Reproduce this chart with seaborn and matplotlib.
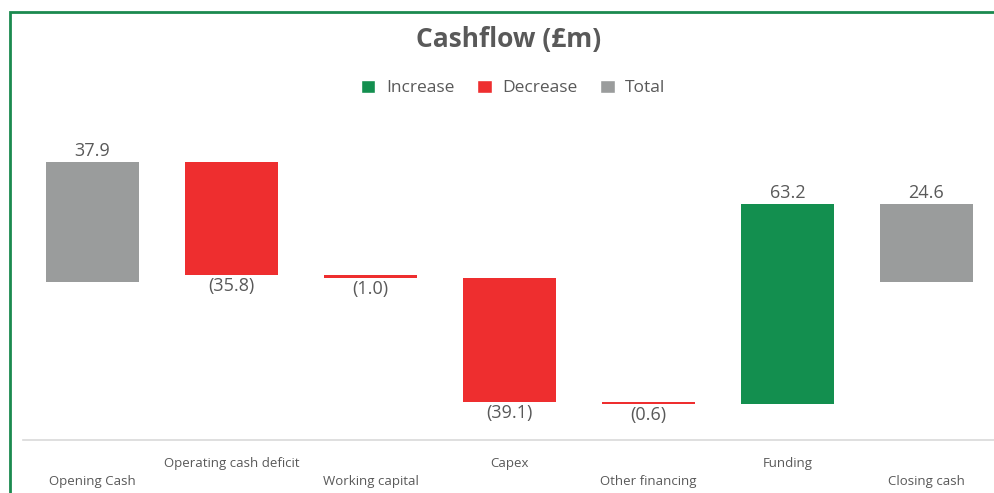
import matplotlib
matplotlib.use("Agg")
import matplotlib.pyplot as plt
import seaborn as sns
import pandas as pd
from matplotlib.patches import Patch, Rectangle

# Cashflow bridge data (£m)
categories = ["Opening Cash", "Operating cash deficit", "Working capital", "Capex",
              "Other financing", "Funding", "Closing cash"]
changes = [37.9, -35.8, -1.0, -39.1, -0.6, 63.2, 24.6]
kinds = ["Total", "Decrease", "Decrease", "Decrease", "Decrease", "Increase", "Total"]

palette = {"Increase": "#138F4F", "Decrease": "#EE2E2F", "Total": "#9A9C9C"}
text_col = "#595959"

# running bases for the floating bars
bottoms = []
running = 0.0
for ch, k in zip(changes, kinds):
    if k == "Total":
        bottoms.append(0.0)
        running = ch
    else:
        bottoms.append(running)
        running += ch

df = pd.DataFrame({"category": categories, "change": changes, "kind": kinds, "bottom": bottoms})

sns.set_style("white")
plt.rcParams["font.family"] = ["Open Sans", "DejaVu Sans"]

fig = plt.figure(figsize=(9.95, 4.93), dpi=100)
ax = fig.add_axes([23 / 995, 1 - 440 / 493, 973 / 995, 310 / 493])

sns.barplot(data=df, x="category", y="change", bottom=df["bottom"].values,
            width=0.67, ax=ax, errorbar=None, color="#999999")

bars = ax.containers[0]
for patch, k in zip(bars, kinds):
    patch.set_facecolor(palette[k])
    patch.set_edgecolor("none")

labels = [f"{v:.1f}" if v >= 0 else f"({abs(v):.1f})" for v in changes]
ax.bar_label(bars, labels=labels, padding=1.5, fontsize=13, color=text_col)

ax.set_ylim(-50, 48)
ax.set_xlim(-0.5, len(categories) - 0.5)
ax.set_xlabel("")
ax.set_ylabel("")
ax.set_yticks([])
for s in ["top", "left", "right"]:
    ax.spines[s].set_visible(False)
ax.spines["bottom"].set_color("#D9D9D9")
ax.spines["bottom"].set_linewidth(1.2)

tick_labels = [("\n" + c) if i % 2 == 0 else c for i, c in enumerate(categories)]
ax.set_xticks(range(len(categories)))
ax.set_xticklabels(tick_labels, fontsize=9.5, color=text_col)
for lab in ax.get_xticklabels():
    lab.set_linespacing(1.5)
ax.tick_params(axis="x", length=0, pad=12)

fig.text(509 / 995, 1 - 40 / 493, "Cashflow (£m)", ha="center", va="center",
         fontsize=19, fontweight="bold", color=text_col)

handles = [Patch(facecolor=palette[k], label=k) for k in ["Increase", "Decrease", "Total"]]
fig.legend(handles=handles, loc="center", bbox_to_anchor=(513 / 995, 1 - 88 / 493),
           ncol=3, frameon=False, fontsize=12.5, labelcolor=text_col,
           handlelength=0.85, handleheight=0.85, handletextpad=0.6, columnspacing=1.3)

# green frame around the chart area
fig.patches.append(Rectangle((10.5 / 995, -0.1), 1.2, 1.1 - 12.5 / 493,
                             transform=fig.transFigure, fill=False,
                             edgecolor="#1B8A4F", linewidth=2, clip_on=False))

fig.savefig("out.png", dpi=100)
